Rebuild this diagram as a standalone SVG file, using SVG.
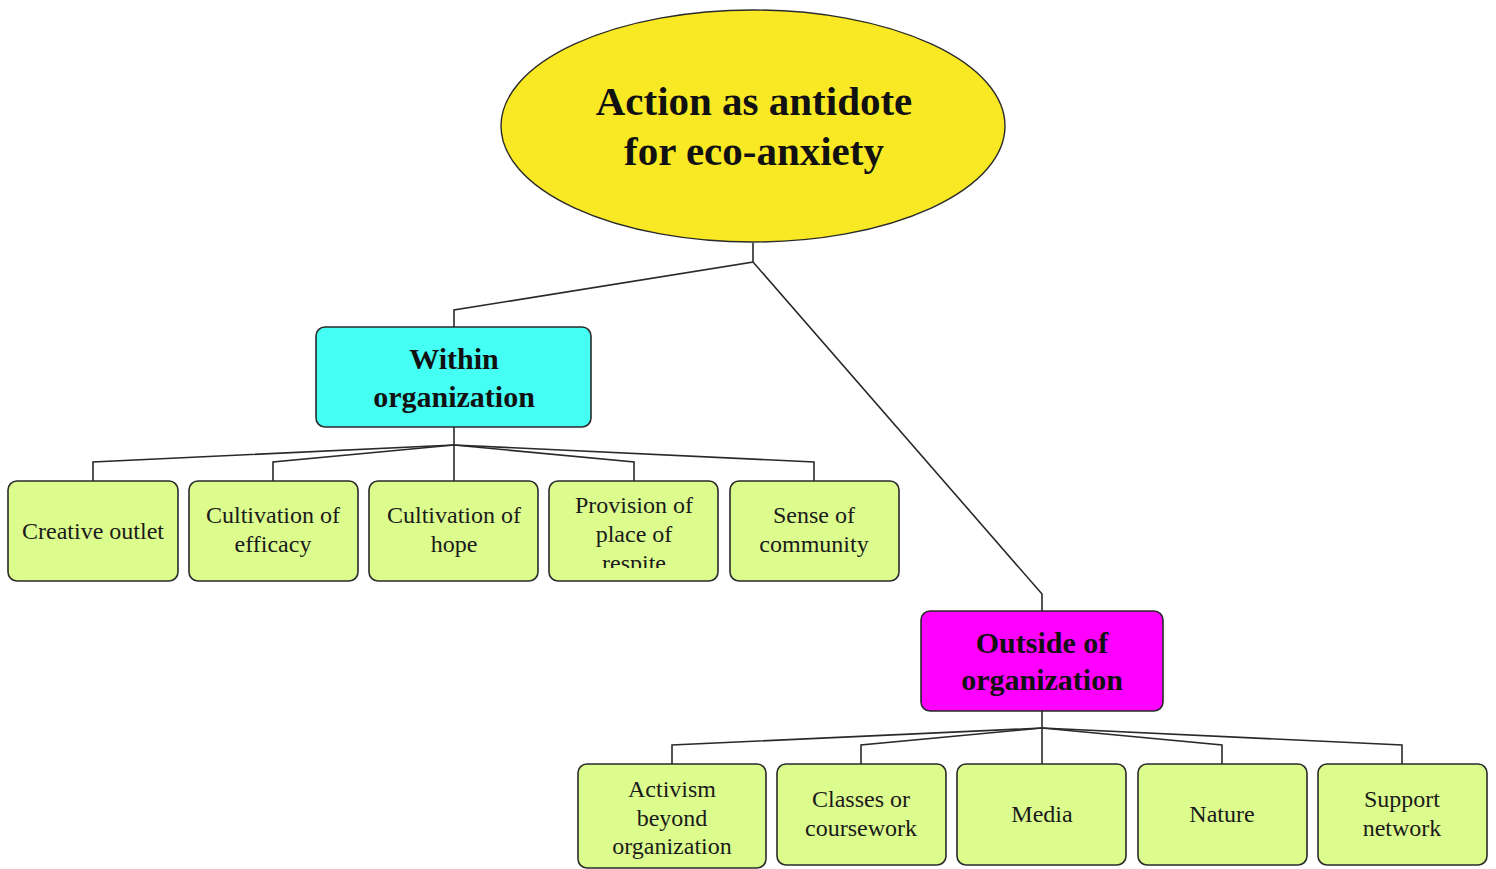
<svg xmlns="http://www.w3.org/2000/svg" width="1496" height="869" viewBox="0 0 1496 869">
  <style>
    .edge { fill: none; stroke: #2a2a2a; stroke-width: 1.6; }
    .box { stroke: #2a2a2a; stroke-width: 1.6; }
    .leaf { fill: #dcfc8e; }
    .head { font-family: "Liberation Serif", "Times New Roman", serif; font-weight: bold; fill: #111; text-anchor: middle; }
    .lbl { font-family: "Liberation Serif", "Times New Roman", serif; font-size: 24px; fill: #1a1a1a; text-anchor: middle; }
  </style>
  <defs>
    <clipPath id="clip-respite"><rect x="551" y="483" width="165" height="85"/></clipPath>
  </defs>
  <rect width="1496" height="869" fill="#ffffff"/>

  <!-- connectors -->
  <g id="connectors">
    <polyline class="edge" points="753,243 753,262 454,310 454,327"/>
    <polyline class="edge" points="753,262 1042,594 1042,611"/>
    <line class="edge" x1="454" y1="427" x2="454" y2="445"/>
    <polyline class="edge" points="454,445 93,462 93,481"/>
    <polyline class="edge" points="454,445 273,462 273,481"/>
    <line class="edge" x1="454" y1="445" x2="454" y2="481"/>
    <polyline class="edge" points="454,445 634,462 634,481"/>
    <polyline class="edge" points="454,445 814,462 814,481"/>
    <line class="edge" x1="1042" y1="711" x2="1042" y2="728"/>
    <polyline class="edge" points="1042,728 672,745 672,764"/>
    <polyline class="edge" points="1042,728 861,745 861,764"/>
    <line class="edge" x1="1042" y1="728" x2="1042" y2="764"/>
    <polyline class="edge" points="1042,728 1222,745 1222,764"/>
    <polyline class="edge" points="1042,728 1402,745 1402,764"/>
  </g>

  <!-- root -->
  <g id="root">
    <ellipse cx="753" cy="126" rx="252" ry="116" fill="#f9e924" stroke="#2a2a2a" stroke-width="1.4"/>
    <text class="head" font-size="41" x="754" y="115">Action as antidote</text>
    <text class="head" font-size="41" x="754" y="165">for eco-anxiety</text>
  </g>

  <!-- first-level branches -->
  <g id="within">
    <rect class="box" x="316" y="327" width="275" height="100" rx="9" fill="#45fff4"/>
    <text class="head" font-size="30" x="454" y="369">Within</text>
    <text class="head" font-size="30" x="454" y="407">organization</text>
  </g>
  <g id="outside">
    <rect class="box" x="921" y="611" width="242" height="100" rx="9" fill="#ff00ff"/>
    <text class="head" font-size="30" x="1042" y="653">Outside of</text>
    <text class="head" font-size="30" x="1042" y="690">organization</text>
  </g>

  <!-- leaves under "Within organization" -->
  <g id="creative-outlet">
    <rect class="box leaf" x="8" y="481" width="170" height="100" rx="9"/>
    <text class="lbl" x="93" y="539">Creative outlet</text>
  </g>
  <g id="efficacy">
    <rect class="box leaf" x="189" y="481" width="169" height="100" rx="9"/>
    <text class="lbl" x="273" y="523">Cultivation of</text>
    <text class="lbl" x="273" y="552">efficacy</text>
  </g>
  <g id="hope">
    <rect class="box leaf" x="369" y="481" width="169" height="100" rx="9"/>
    <text class="lbl" x="454" y="523">Cultivation of</text>
    <text class="lbl" x="454" y="552">hope</text>
  </g>
  <g id="respite">
    <rect class="box leaf" x="549" y="481" width="169" height="100" rx="9"/>
    <g clip-path="url(#clip-respite)">
      <text class="lbl" x="634" y="513">Provision of</text>
      <text class="lbl" x="634" y="542">place of</text>
      <text class="lbl" x="634" y="571">respite</text>
    </g>
  </g>
  <g id="community">
    <rect class="box leaf" x="730" y="481" width="169" height="100" rx="9"/>
    <text class="lbl" x="814" y="523">Sense of</text>
    <text class="lbl" x="814" y="552">community</text>
  </g>

  <!-- leaves under "Outside of organization" -->
  <g id="activism">
    <rect class="box leaf" x="578" y="764" width="188" height="104" rx="9"/>
    <text class="lbl" x="672" y="797">Activism</text>
    <text class="lbl" x="672" y="826">beyond</text>
    <text class="lbl" x="672" y="854">organization</text>
  </g>
  <g id="classes">
    <rect class="box leaf" x="777" y="764" width="169" height="101" rx="9"/>
    <text class="lbl" x="861" y="807">Classes or</text>
    <text class="lbl" x="861" y="836">coursework</text>
  </g>
  <g id="media">
    <rect class="box leaf" x="957" y="764" width="169" height="101" rx="9"/>
    <text class="lbl" x="1042" y="822">Media</text>
  </g>
  <g id="nature">
    <rect class="box leaf" x="1138" y="764" width="169" height="101" rx="9"/>
    <text class="lbl" x="1222" y="822">Nature</text>
  </g>
  <g id="support">
    <rect class="box leaf" x="1318" y="764" width="169" height="101" rx="9"/>
    <text class="lbl" x="1402" y="807">Support</text>
    <text class="lbl" x="1402" y="836">network</text>
  </g>
</svg>
